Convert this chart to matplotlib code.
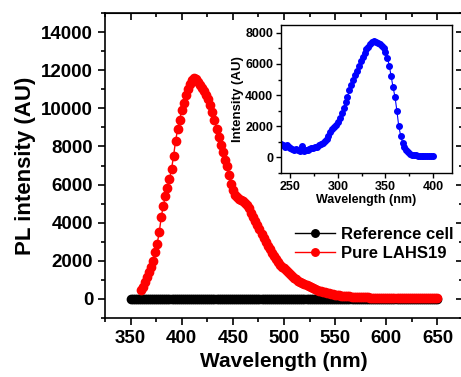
import numpy as np
import matplotlib
matplotlib.use('Agg')
import matplotlib.pyplot as plt
from matplotlib.ticker import MultipleLocator

plt.rcParams['font.family'] = ['Liberation Sans', 'DejaVu Sans']
plt.rcParams['font.weight'] = 'bold'
plt.rcParams['axes.labelweight'] = 'bold'

# reference cell (flat at zero), 2 nm steps
ref_wl = np.arange(350, 651, 2)
ref_int = [0, 0, 0, 0, 0, 0, 0, 0, 0, 0, 0, 0, 0, 0, 0, 0, 0, 0, 0, 0,
           0, 0, 0, 0, 0, 0, 0, 0, 0, 0, 0, 0, 0, 0, 0, 0, 0, 0, 0, 0,
           0, 0, 0, 0, 0, 0, 0, 0, 0, 0, 0, 0, 0, 0, 0, 0, 0, 0, 0, 0,
           0, 0, 0, 0, 0, 0, 0, 0, 0, 0, 0, 0, 0, 0, 0, 0, 0, 0, 0, 0,
           0, 0, 0, 0, 0, 0, 0, 0, 0, 0, 0, 0, 0, 0, 0, 0, 0, 0, 0, 0,
           0, 0, 0, 0, 0, 0, 0, 0, 0, 0, 0, 0, 0, 0, 0, 0, 0, 0, 0, 0,
           0, 0, 0, 0, 0, 0, 0, 0, 0, 0, 0, 0, 0, 0, 0, 0, 0, 0, 0, 0,
           0, 0, 0, 0, 0, 0, 0, 0, 0, 0, 0]

# Pure LAHS19 PL, 2 nm steps
pl_wl = np.arange(360, 651, 2)
pl_int = [450, 650, 900, 1150, 1400, 1650, 2000, 2450, 2900, 3500,
          4300, 4900, 5400, 5800, 6300, 6800, 7500, 8300, 8900, 9400,
          9900, 10300, 10700, 11000, 11300, 11500, 11600, 11550, 11400, 11200,
          11050, 10900, 10700, 10500, 10200, 9800, 9400, 8900, 8500, 8100,
          7700, 7300, 6950, 6500, 6050, 5700, 5450, 5350, 5250, 5200,
          5150, 5050, 4950, 4750, 4500, 4300, 4100, 3900, 3650, 3400,
          3200, 3000, 2800, 2600, 2400, 2250, 2100, 1950, 1800, 1700,
          1600, 1500, 1400, 1300, 1200, 1100, 1020, 950, 900, 850,
          800, 730, 670, 620, 570, 520, 480, 440, 410, 380,
          350, 320, 295, 270, 250, 230, 210, 195, 180, 165,
          150, 140, 130, 120, 112, 105, 100, 95, 90, 85,
          80, 76, 72, 68, 65, 62, 60, 58, 56, 54,
          52, 50, 49, 48, 47, 46, 45, 44, 43, 42,
          41, 40, 40, 39, 38, 38, 37, 36, 36, 35,
          35, 34, 34, 33, 33, 32]

# inset (excitation) spectrum, 2 nm steps
ex_wl = np.arange(240, 401, 2)
ex_int = [850, 800, 700, 820, 650, 600, 550, 500, 520, 450,
          420, 750, 420, 450, 500, 550, 600, 620, 650, 700,
          780, 850, 950, 1050, 1200, 1400, 1650, 1800, 1950, 2100,
          2250, 2550, 2850, 3200, 3550, 3900, 4300, 4650, 5000, 5300,
          5550, 5850, 6200, 6450, 6700, 6950, 7100, 7250, 7400, 7450,
          7400, 7350, 7300, 7150, 7000, 6750, 6400, 5900, 5200, 4500,
          3900, 3000, 2000, 1400, 950, 650, 450, 320, 230, 180,
          150, 130, 110, 100, 90, 80, 75, 70, 65, 60, 60]

fig = plt.figure(figsize=(4.61, 3.77), dpi=100)
ax = fig.add_axes([0.2278, 0.1565, 0.7766, 0.809])

ax.plot(ref_wl, ref_int, 'o-', color='black', ms=6, lw=1, label='Reference cell')
ax.plot(pl_wl, pl_int, 'o-', color='red', ms=6, lw=1, label='Pure LAHS19')

ax.set_xlim(325, 675)
ax.set_ylim(-1000, 15000)
ax.xaxis.set_major_locator(MultipleLocator(50))
ax.xaxis.set_minor_locator(MultipleLocator(25))
ax.yaxis.set_major_locator(MultipleLocator(2000))
ax.yaxis.set_minor_locator(MultipleLocator(1000))
ax.set_xticks(np.arange(350, 651, 50))
ax.tick_params(which='both', direction='out', width=1.2, labelsize=13.5)
ax.tick_params(which='major', length=5)
ax.tick_params(which='minor', length=3)
for s in ax.spines.values():
    s.set_linewidth(1.2)

# mirrored ticks pointing inward on top and right
top = ax.secondary_xaxis('top')
top.xaxis.set_major_locator(MultipleLocator(50))
top.xaxis.set_minor_locator(MultipleLocator(25))
top.tick_params(which='both', direction='in', width=1.2, labeltop=False)
top.tick_params(which='major', length=5)
top.tick_params(which='minor', length=3)
right = ax.secondary_yaxis('right')
right.yaxis.set_major_locator(MultipleLocator(2000))
right.yaxis.set_minor_locator(MultipleLocator(1000))
right.tick_params(which='both', direction='in', width=1.2, labelright=False)
right.tick_params(which='major', length=5)
right.tick_params(which='minor', length=3)

ax.set_xlabel('Wavelength (nm)', fontsize=15, labelpad=4)
ax.set_ylabel('PL intensity (AU)', fontsize=16, labelpad=4)

ax.legend(loc='center left', bbox_to_anchor=(0.622, 0.353),
          bbox_transform=fig.transFigure, frameon=False, fontsize=12,
          handlelength=2.4, handletextpad=0.35, borderpad=0,
          labelspacing=0.25, markerscale=0.9)

# inset
ins = fig.add_axes([0.6095, 0.5411, 0.3709, 0.3926])
ins.plot(ex_wl, ex_int, 'o-', color='blue', ms=4, lw=0.8)
ins.set_xlim(240, 420)
ins.set_ylim(-1000, 8500)
ins.set_xticks([250, 300, 350, 400])
ins.xaxis.set_minor_locator(MultipleLocator(25))
ins.yaxis.set_major_locator(MultipleLocator(2000))
ins.yaxis.set_minor_locator(MultipleLocator(1000))
ins.tick_params(which='both', direction='out', width=1, labelsize=9, pad=2)
ins.tick_params(which='major', length=3.5)
ins.tick_params(which='minor', length=2)
ins.set_xlabel('Wavelength (nm)', fontsize=9, labelpad=1)
ins.set_ylabel('Intensity (AU)', fontsize=9.5, labelpad=1)
for s in ins.spines.values():
    s.set_linewidth(1)

fig.savefig('out.png', dpi=100)
